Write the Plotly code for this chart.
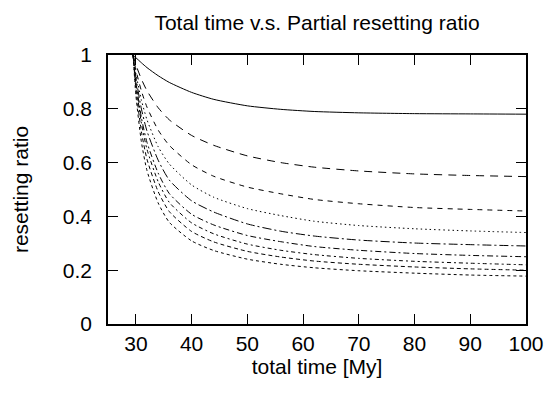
import plotly.graph_objects as go

# total time [My] sample points
total_time = [29.5, 30, 31, 32, 34, 36, 40, 44, 50, 56, 62, 70, 80, 90, 100]

# resetting ratio curves (top to bottom)
ratio_1 = [1.000, 0.990, 0.971, 0.953, 0.923, 0.898, 0.861, 0.835, 0.811, 0.798, 0.790, 0.785, 0.782, 0.781, 0.780]
ratio_2 = [1.000, 0.964, 0.910, 0.867, 0.804, 0.759, 0.701, 0.664, 0.625, 0.600, 0.583, 0.569, 0.558, 0.552, 0.548]
ratio_3 = [1.000, 0.945, 0.866, 0.806, 0.721, 0.664, 0.592, 0.549, 0.509, 0.484, 0.463, 0.447, 0.433, 0.426, 0.420]
ratio_4 = [1.000, 0.932, 0.832, 0.759, 0.659, 0.595, 0.517, 0.471, 0.429, 0.403, 0.382, 0.366, 0.354, 0.346, 0.340]
ratio_5 = [1.000, 0.917, 0.799, 0.717, 0.609, 0.535, 0.458, 0.416, 0.372, 0.345, 0.327, 0.312, 0.301, 0.295, 0.290]
ratio_6 = [1.000, 0.901, 0.766, 0.675, 0.561, 0.485, 0.408, 0.368, 0.329, 0.306, 0.288, 0.274, 0.262, 0.255, 0.250]
ratio_7 = [1.000, 0.893, 0.746, 0.649, 0.529, 0.452, 0.376, 0.335, 0.297, 0.274, 0.258, 0.244, 0.233, 0.226, 0.220]
ratio_8 = [1.000, 0.875, 0.714, 0.612, 0.492, 0.418, 0.344, 0.305, 0.270, 0.249, 0.234, 0.222, 0.212, 0.205, 0.200]
ratio_9 = [1.000, 0.851, 0.676, 0.570, 0.450, 0.378, 0.309, 0.273, 0.241, 0.222, 0.209, 0.198, 0.189, 0.182, 0.178]

series = [ratio_1, ratio_2, ratio_3, ratio_4, ratio_5, ratio_6, ratio_7, ratio_8, ratio_9]
dashes = ["solid", "8px,6px", "5px,5px", "1.5px,3px", "9px,3px,2px,3px",
          "6px,3px,2px,3px", "4px,3px,2px,3px", "4px,3px", "3px,3px"]

x_ticks = [30, 40, 50, 60, 70, 80, 90, 100]
y_ticks = [0, 0.2, 0.4, 0.6, 0.8, 1]
y_tick_labels = ["0", "0.2", "0.4", "0.6", "0.8", "1"]

FONT = "Liberation Sans, Arial, Helvetica, sans-serif"
FS = 21

fig = go.Figure()
for vals, d in zip(series, dashes):
    fig.add_trace(go.Scatter(
        x=total_time, y=vals, mode="lines",
        line=dict(color="black", width=1, dash=d, shape="spline", smoothing=0.6),
        showlegend=False, hoverinfo="skip"))

fig.update_layout(
    width=556, height=395,
    margin=dict(l=108, r=23, t=55, b=71),
    paper_bgcolor="white", plot_bgcolor="white",
    font=dict(family=FONT, size=FS, color="black"),
    title=dict(text="Total time v.s. Partial resetting ratio", x=0.5, xref="paper",
               y=1 - 23 / 395, yref="container", yanchor="middle", xanchor="center",
               font=dict(family=FONT, size=FS, color="black")),
)
fig.update_xaxes(
    range=[25, 100], tickvals=x_ticks, ticks="inside", ticklen=10, tickwidth=1,
    tickcolor="black", mirror="ticks", showline=True, linecolor="black", linewidth=1.5,
    showgrid=False, zeroline=False, ticklabelstandoff=0,
    title=dict(text="total time [My]", standoff=5, font=dict(size=FS)),
)
fig.update_yaxes(
    range=[0, 1], tickvals=y_ticks, ticktext=y_tick_labels, ticks="inside", ticklen=10,
    tickwidth=1, tickcolor="black", mirror="ticks", showline=True, linecolor="black",
    linewidth=1.5, showgrid=False, zeroline=False, ticklabelstandoff=10,
    title=dict(text="resetting ratio", standoff=28, font=dict(size=FS)),
)

fig.write_html("out.html", config={"displayModeBar": False},
               post_script="document.body.style.margin='0px';")
